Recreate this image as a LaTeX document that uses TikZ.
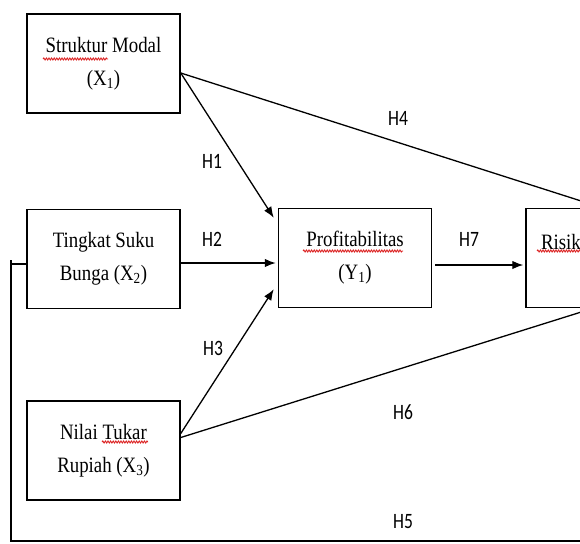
\documentclass[tikz,border=0pt]{standalone}
\usepackage{fontspec}
\usetikzlibrary{arrows.meta, positioning, decorations.pathmorphing}
\newfontfamily\boxfont[FakeStretch=0.86]{Liberation Serif}
\newfontfamily\labfont[FakeStretch=0.8]{Carlito}
\definecolor{spell}{RGB}{220, 35, 35}

\begin{document}
\begin{tikzpicture}[x=1bp, y=-1bp,
    var/.style={draw, line width=1.5bp, minimum width=153bp, minimum height=99bp,
                align=center, inner sep=0pt, font=\boxfont\fontsize{22}{33}\selectfont},
    arr/.style={line width=1.3bp, -{Latex[length=11bp, width=8.5bp]}},
    ln/.style={line width=1.3bp},
    hyp/.style={font=\labfont\fontsize{22}{24}\selectfont},
    wavy/.style={spell, line width=0.9bp, decorate,
                 decoration={snake, amplitude=1bp, segment length=2.6bp}}]
  \useasboundingbox (0, 0) rectangle (580, 544);
  \clip (0, 0) rectangle (580, 544);

  \node[var] (sm) at (103.5, 63.5) {Struktur Modal\\(X\textsubscript{1})};
  \node[var, below=95bp of sm] (tsb) {Tingkat Suku\\Bunga (X\textsubscript{2})};
  \node[var, below=91bp of tsb] (ntr) {Nilai Tukar\\Rupiah (X\textsubscript{3})};
  \node[var, right=97bp of tsb, yshift=1bp] (prof) {Profitabilitas\\(Y\textsubscript{1})};
  \node[var, right=93bp of prof, text width=123bp, align=left] (risk) {Risiko\\\mbox{}};

  \coordinate (smout) at ([yshift=-9.5bp]sm.east);
  \coordinate (h5) at ([xshift=-15bp, yshift=-5bp]tsb.west);
  \coordinate (h5end) at (640, 541);

  \draw[arr] (smout) -- ([xshift=-4bp, yshift=-10bp]prof.north west);
  \draw[ln] (smout) -- ([xshift=77bp]risk.north west);
  \draw[arr] ([yshift=-4bp]tsb.east) -- ([xshift=-2bp, yshift=-5bp]prof.west);
  \draw[arr] ([yshift=17bp]ntr.east) -- ([xshift=-4bp, yshift=19bp]prof.south west);
  \draw[ln] ([yshift=13bp]ntr.east) -- ([xshift=68bp]risk.south west);
  \draw[arr] ([xshift=3bp, yshift=-7bp]prof.east) -- ([xshift=-2bp, yshift=-7bp]risk.west);
  \draw[ln] (h5) -- ([yshift=-5bp]tsb.west);
  \draw[ln, line width=1.6bp] ([yshift=4bp]h5) |- (h5end);

  \foreach \h/\x/\y in {H1/212/161, H2/212/239, H3/213/348, H4/398/118,
                        H5/403/522, H6/403/412, H7/469/239}
    \node[hyp] (\h) at (\x, \y) {\h};

  \draw[wavy] (43, 59) -- (108, 59);
  \draw[wavy] (303, 251) -- (403, 251);
  \draw[wavy] (102, 442) -- (148, 442);
  \draw[wavy] (537, 251) -- (585, 251);
\end{tikzpicture}
\end{document}
